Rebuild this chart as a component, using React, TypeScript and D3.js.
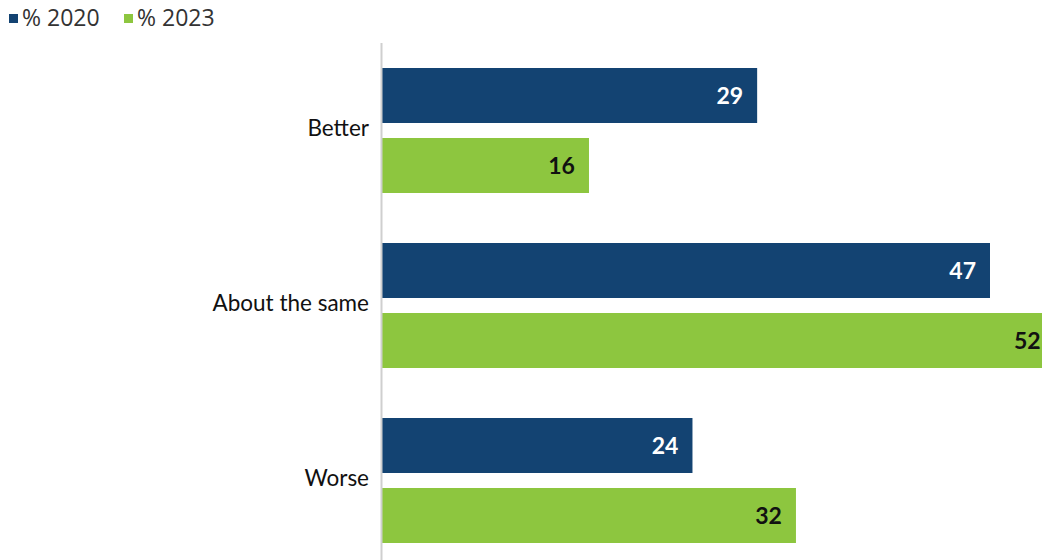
import React from "react";
import * as d3 from "d3";

const categories = ["Better", "About the same", "Worse"];
const seriesNames = ["% 2020", "% 2023"];
const values2020 = [29, 47, 24];
const values2023 = [16, 52, 32];

const W = 1042;
const H = 560;
const COLORS = ["#134372", "#8DC63F"];
const LABEL_COLORS = ["#ffffff", "#111111"];
const FONT = "Lato, 'Open Sans', sans-serif";

export default function App() {
  const x0 = 382;
  const x = d3.scaleLinear().domain([0, 47]).range([x0, 990]);
  const y = d3.scaleBand().domain(categories).range([43, 568]).paddingInner(0).paddingOuter(0);
  const inner = d3.scaleBand().domain(seriesNames).range([25, 150]).paddingInner(15 / 70).paddingOuter(0);
  const series = [values2020, values2023];

  return (
    <svg width={W} height={H} style={{ position: "absolute", left: 0, top: 0, fontFamily: FONT }}>
      <defs>
        <clipPath id="clip">
          <rect x={0} y={0} width={W} height={H} />
        </clipPath>
      </defs>
      {seriesNames.map((s, i) => (
        <g key={s} transform={`translate(${i === 0 ? 9 : 124},0)`}>
          <rect x={0} y={14} width={9} height={9} fill={COLORS[i]} />
          <text x={13} y={26} fontSize={23} fill="#333" fontFamily="'Open Sans', sans-serif">{s}</text>
        </g>
      ))}
      <g clipPath="url(#clip)">
        {categories.map((c, ci) => (
          <g key={c}>
            <text x={369} y={(y(c) as number) + 93} textAnchor="end" fontSize={22.5} fill="#111">
              {c}
            </text>
            {series.map((vals, si) => {
              const by = (y(c) as number) + (inner(seriesNames[si]) as number);
              const bw = x(vals[ci]) - x0;
              return (
                <g key={si}>
                  <rect x={x0} y={by} width={bw} height={inner.bandwidth()} fill={COLORS[si]} />
                  <text
                    x={x(vals[ci]) - 14}
                    y={by + inner.bandwidth() / 2 + 8}
                    textAnchor="end"
                    fontSize={23}
                    fontWeight="bold"
                    fill={LABEL_COLORS[si]}
                  >
                    {vals[ci]}
                  </text>
                </g>
              );
            })}
          </g>
        ))}
      </g>
      <line x1={x0 - 0.5} x2={x0 - 0.5} y1={43} y2={H} stroke="#cfcfcf" strokeWidth={2} />
    </svg>
  );
}
